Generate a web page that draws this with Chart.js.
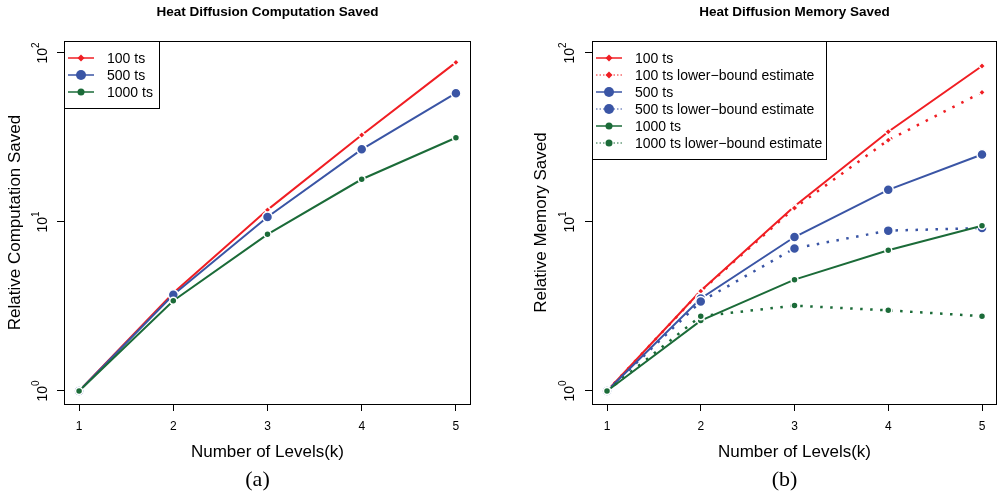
<!DOCTYPE html>
<html>
<head>
<meta charset="utf-8">
<script src="https://cdn.jsdelivr.net/npm/chart.js@4/dist/chart.umd.min.js"></script>
<style>
  html, body { margin: 0; padding: 0; background: #fff; }
  .row { display: flex; width: 998px; height: 494px; }
  canvas { display: block; }
</style>
</head>
<body>
<div class="row">
  <canvas id="compChart" width="499" height="494"></canvas>
  <canvas id="memChart" width="499" height="494"></canvas>
</div>
<script>
// x categories and axis ticks
const levels = [1, 2, 3, 4, 5];
const yTicks = [1, 10, 100];

// relative computation saved
const comp100 = [1, 3.8, 11.8, 32.7, 88];
const comp500 = [1, 3.71, 10.7, 26.9, 57.8];
const comp1000 = [1, 3.42, 8.45, 17.9, 31.5];

// relative memory saved
const mem100 = [1, 3.92, 12.4, 34.2, 83.8];
const mem100Lower = [1, 3.9, 12.1, 30.5, 58.5];
const mem500 = [1, 3.53, 8.15, 15.5, 25.1];
const mem500Lower = [1, 3.38, 6.98, 8.89, 9.2];
const mem1000 = [1, 2.61, 4.56, 6.8, 9.5];
const mem1000Lower = [1, 2.77, 3.2, 3.0, 2.77];

const RED = '#f01e23', BLUE = '#3a55a5', GREEN = '#1b6b38';
const SANS = '"Liberation Sans", Arial, Helvetica, sans-serif';

const marks = {
  ts100: { pointStyle: 'rectRot', radius: 3.5 },
  ts500: { pointStyle: 'circle', radius: 5 },
  ts1000: { pointStyle: 'circle', radius: 3.5 }
};

function series(label, values, color, mark, dotted, idx) {
  return {
    label: label,
    data: values.map((v, i) => ({ x: levels[i], y: v })),
    order: -idx, // later series drawn on top, like R
    borderColor: color,
    backgroundColor: color,
    borderWidth: dotted ? 2.5 : 2,
    borderDash: dotted ? [2.5, 7.5] : [],
    pointStyle: mark.pointStyle,
    pointRadius: mark.radius,
    pointHoverRadius: mark.radius,
    pointBorderColor: '#fff',
    pointBorderWidth: 1.5,
    pointBackgroundColor: color,
    tension: 0,
    fill: false,
    dotted: dotted,
    mark: mark
  };
}

// draws the R-style frame, legend, rotated log labels and texts
const rStyle = {
  id: 'rStyle',
  afterDraw(chart, args, opts) {
    const ctx = chart.ctx;
    const a = chart.chartArea;
    const ys = chart.scales.y;
    ctx.save();

    // frame
    ctx.strokeStyle = '#000';
    ctx.lineWidth = 1;
    ctx.strokeRect(a.left + 0.5, a.top + 0.5, a.right - a.left - 1, a.bottom - a.top);

    // y tick labels: 10^n, rotated
    ctx.fillStyle = '#000';
    yTicks.forEach(v => {
      const py = ys.getPixelForValue(v);
      const exp = String(Math.round(Math.log10(v)));
      ctx.save();
      ctx.translate(a.left - opts.tickLabelOffset, py);
      ctx.rotate(-Math.PI / 2);
      ctx.font = '14px ' + SANS;
      const w1 = ctx.measureText('10').width;
      ctx.font = '10px ' + SANS;
      const w2 = ctx.measureText(exp).width;
      const x0 = -(w1 + w2) / 2;
      ctx.textBaseline = 'alphabetic';
      ctx.textAlign = 'left';
      ctx.font = '14px ' + SANS;
      ctx.fillText('10', x0, 5);
      ctx.font = '10px ' + SANS;
      ctx.fillText(exp, x0 + w1, -3);
      ctx.restore();
    });

    // main title
    const cx = (a.left + a.right) / 2;
    ctx.textAlign = 'center';
    ctx.textBaseline = 'middle';
    ctx.font = 'bold 13.5px ' + SANS;
    ctx.fillText(opts.title, cx, 12);

    // axis titles
    ctx.font = '17px ' + SANS;
    ctx.fillText('Number of Levels(k)', cx, 452);
    ctx.save();
    ctx.translate(opts.yTitleX, (a.top + a.bottom) / 2);
    ctx.rotate(-Math.PI / 2);
    ctx.fillText(opts.yTitle, 0, 0);
    ctx.restore();

    // caption
    ctx.font = '22px "Liberation Serif", "Times New Roman", serif';
    ctx.fillText(opts.caption, cx - 10, 480);

    // legend
    const ds = chart.data.datasets;
    const lx = a.left, ly = a.top;
    ctx.fillStyle = '#fff';
    ctx.fillRect(lx + 1, ly + 1, opts.legendW - 1, opts.legendH - 1);
    ctx.strokeStyle = '#000';
    ctx.lineWidth = 1;
    ctx.strokeRect(lx + 0.5, ly + 0.5, opts.legendW, opts.legendH);
    ds.forEach((d, i) => {
      const ry = ly + 17 + i * 17;
      ctx.save();
      ctx.strokeStyle = d.borderColor;
      ctx.lineWidth = d.dotted ? 1 : 1.5;
      ctx.setLineDash(d.dotted ? [1.5, 2] : []);
      ctx.beginPath();
      ctx.moveTo(lx + 4, ry);
      ctx.lineTo(lx + 30, ry);
      ctx.stroke();
      ctx.setLineDash([]);
      ctx.fillStyle = d.borderColor;
      Chart.helpers.drawPoint(ctx, {
        pointStyle: d.mark.pointStyle,
        radius: d.mark.radius,
        rotation: 0,
        borderWidth: 0
      }, lx + 17, ry);
      ctx.restore();
      ctx.fillStyle = '#000';
      ctx.textAlign = 'left';
      ctx.textBaseline = 'middle';
      ctx.font = '14px ' + SANS;
      ctx.fillText(d.label, lx + 43, ry + 1);
    });

    ctx.restore();
  }
};

function makeChart(id, datasets, cfg) {
  return new Chart(document.getElementById(id), {
    type: 'line',
    data: { datasets: datasets },
    plugins: [rStyle],
    options: {
      responsive: false,
      animation: false,
      layout: { autoPadding: false, padding: { top: 41, right: cfg.padRight, left: 0, bottom: 0 } },
      scales: {
        x: {
          type: 'linear',
          min: 0.84,
          max: 5.16,
          afterBuildTicks: s => { s.ticks = levels.map(v => ({ value: v })); },
          afterFit: s => { s.height = 90; s.paddingLeft = 0; s.paddingRight = 0; },
          border: { display: false },
          grid: { display: true, drawOnChartArea: false, drawTicks: true, tickLength: 7, color: '#000', lineWidth: 1 },
          ticks: { color: '#000', padding: 8, font: { family: SANS, size: 12 }, maxRotation: 0, callback: v => String(v) }
        },
        y: {
          type: 'logarithmic',
          min: Math.pow(10, -0.077),
          max: Math.pow(10, 2.071),
          afterBuildTicks: s => { s.ticks = yTicks.map(v => ({ value: v })); },
          afterFit: s => { s.width = cfg.yWidth; s.paddingTop = 0; s.paddingBottom = 0; },
          border: { display: false },
          grid: { display: true, drawOnChartArea: false, drawTicks: true, tickLength: 7, color: '#000', lineWidth: 1 },
          ticks: { display: false }
        }
      },
      plugins: {
        legend: { display: false },
        title: { display: false },
        tooltip: { enabled: false },
        rStyle: cfg
      }
    }
  });
}

makeChart('compChart', [
  series('100 ts', comp100, RED, marks.ts100, false, 0),
  series('500 ts', comp500, BLUE, marks.ts500, false, 1),
  series('1000 ts', comp1000, GREEN, marks.ts1000, false, 2)
], {
  title: 'Heat Diffusion Computation Saved',
  yTitle: 'Relative Computation Saved',
  caption: '(a)',
  yWidth: 64, padRight: 28,
  yTitleX: 15, tickLabelOffset: 22,
  legendW: 95, legendH: 67
});

makeChart('memChart', [
  series('100 ts', mem100, RED, marks.ts100, false, 0),
  series('100 ts lower\u2212bound estimate', mem100Lower, RED, marks.ts100, true, 1),
  series('500 ts', mem500, BLUE, marks.ts500, false, 2),
  series('500 ts lower\u2212bound estimate', mem500Lower, BLUE, marks.ts500, true, 3),
  series('1000 ts', mem1000, GREEN, marks.ts1000, false, 4),
  series('1000 ts lower\u2212bound estimate', mem1000Lower, GREEN, marks.ts1000, true, 5)
], {
  title: 'Heat Diffusion Memory Saved',
  yTitle: 'Relative Memory Saved',
  caption: '(b)',
  yWidth: 93, padRight: 1,
  yTitleX: 42, tickLabelOffset: 23,
  legendW: 234, legendH: 118
});
</script>
</body>
</html>
